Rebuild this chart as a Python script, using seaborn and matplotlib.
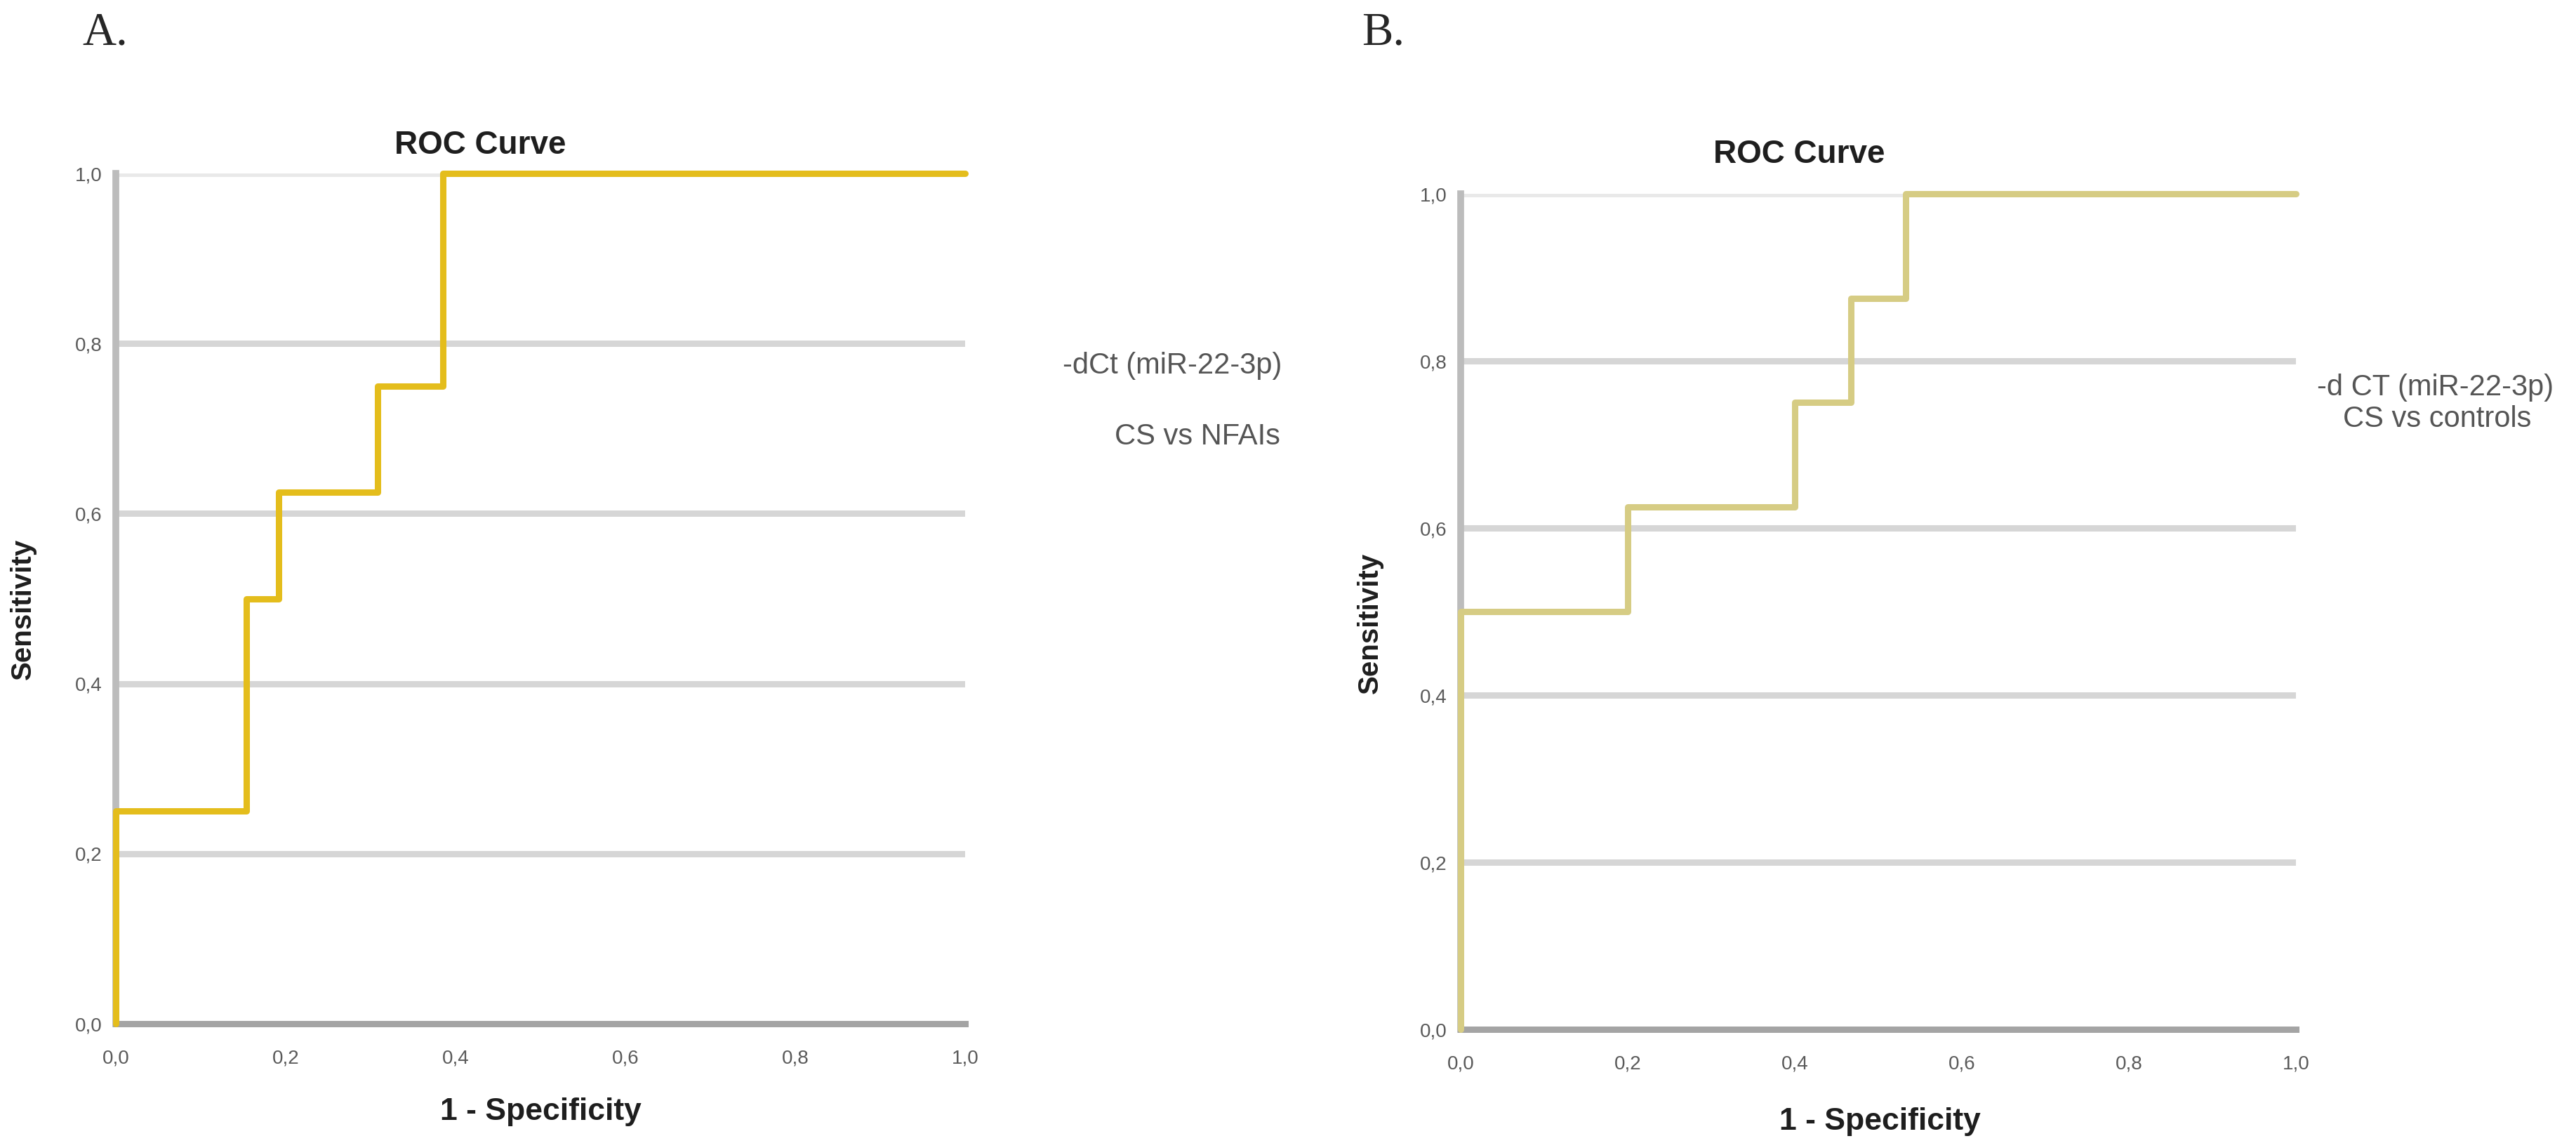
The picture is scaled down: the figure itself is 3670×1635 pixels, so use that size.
import pandas as pd
import seaborn as sns
import matplotlib.pyplot as plt

# ROC curve corners (1 - specificity, sensitivity)
fpr_a = [0.0, 0.0, 0.154, 0.154, 0.192, 0.192, 0.308, 0.308, 0.385, 0.385, 1.0]
tpr_a = [0.0, 0.25, 0.25, 0.5, 0.5, 0.625, 0.625, 0.75, 0.75, 1.0, 1.0]
fpr_b = [0.0, 0.0, 0.2, 0.2, 0.4, 0.4, 0.467, 0.467, 0.533, 0.533, 1.0]
tpr_b = [0.0, 0.5, 0.5, 0.625, 0.625, 0.75, 0.75, 0.875, 0.875, 1.0, 1.0]

ticks = [0.0, 0.2, 0.4, 0.6, 0.8, 1.0]
tick_labels = ['0,0', '0,2', '0,4', '0,6', '0,8', '1,0']

legend_a = ['-dCt (miR-22-3p)', 'CS vs NFAIs']
legend_b = ['-d CT (miR-22-3p)', 'CS vs controls']

sns.set_theme(style='white')
plt.rcParams['font.family'] = ['Liberation Sans', 'DejaVu Sans']

W, H = 3670, 1635
fig = plt.figure(figsize=(W / 100, H / 100), dpi=100)


def fx(px):
    return px / W


def fy(py):
    return 1 - py / H


def roc_panel(rect, fpr, tpr, color):
    ax = fig.add_axes(rect)
    df = pd.DataFrame({'fpr': fpr, 'tpr': tpr})
    for t in ticks[1:]:
        ax.axhline(t, color='#e9e9e9' if t == 1.0 else '#d6d6d6', lw=6.5, zorder=0)
    sns.lineplot(data=df, x='fpr', y='tpr', sort=False, estimator=None,
                 color=color, lw=6.5, ax=ax, zorder=3, clip_on=False)
    ax.set_xlim(0, 1)
    ax.set_ylim(0, 1)
    ax.set_xticks(ticks)
    ax.set_xticklabels(tick_labels)
    ax.set_yticks(ticks)
    ax.set_yticklabels(tick_labels)
    ax.tick_params(length=0, labelsize=20, labelcolor='#5a5a5a')
    ax.tick_params(axis='x', pad=26)
    ax.tick_params(axis='y', pad=14)
    ax.set_xlabel('')
    ax.set_ylabel('')
    sns.despine(ax=ax)
    ax.spines['left'].set_color('#bcbcbc')
    ax.spines['left'].set_linewidth(7)
    ax.spines['bottom'].set_color('#a4a4a4')
    ax.spines['bottom'].set_linewidth(6.5)
    return ax


ax_a = roc_panel([fx(165), fy(1458), 1210 / W, 1211 / H], fpr_a, tpr_a, '#e4bd1c')
ax_b = roc_panel([fx(2081), fy(1466), 1190 / W, 1190 / H], fpr_b, tpr_b, '#d6cc84')

# panel letters
fig.text(fx(117), fy(63), 'A.', family='Liberation Serif', fontsize=48, va='baseline')
fig.text(fx(1940), fy(63), 'B.', family='Liberation Serif', fontsize=48, va='baseline')

# titles and axis labels
bold = dict(fontweight='bold', color='#1e1e1e', ha='center', va='center')
fig.text(fx(684), fy(207), 'ROC Curve', fontsize=33, **bold)
fig.text(fx(2563), fy(220), 'ROC Curve', fontsize=33, **bold)
fig.text(fx(770), fy(1583), '1 - Specificity', fontsize=32, **bold)
fig.text(fx(2678), fy(1597), '1 - Specificity', fontsize=32, **bold)
fig.text(fx(33), fy(867), 'Sensitivity', fontsize=29, rotation=90, **bold)
fig.text(fx(1952), fy(887), 'Sensitivity', fontsize=29, rotation=90, **bold)

# legend texts
fig.text(fx(1826), fy(521), legend_a[0], fontsize=30, color='#555555', ha='right', va='center')
fig.text(fx(1824), fy(622), legend_a[1], fontsize=30, color='#555555', ha='right', va='center')
fig.text(fx(3470), fy(552), legend_b[0], fontsize=30, color='#555555', ha='center', va='center')
fig.text(fx(3472), fy(597), legend_b[1], fontsize=30, color='#555555', ha='center', va='center')

fig.savefig('out.png', dpi=100, facecolor='white')
